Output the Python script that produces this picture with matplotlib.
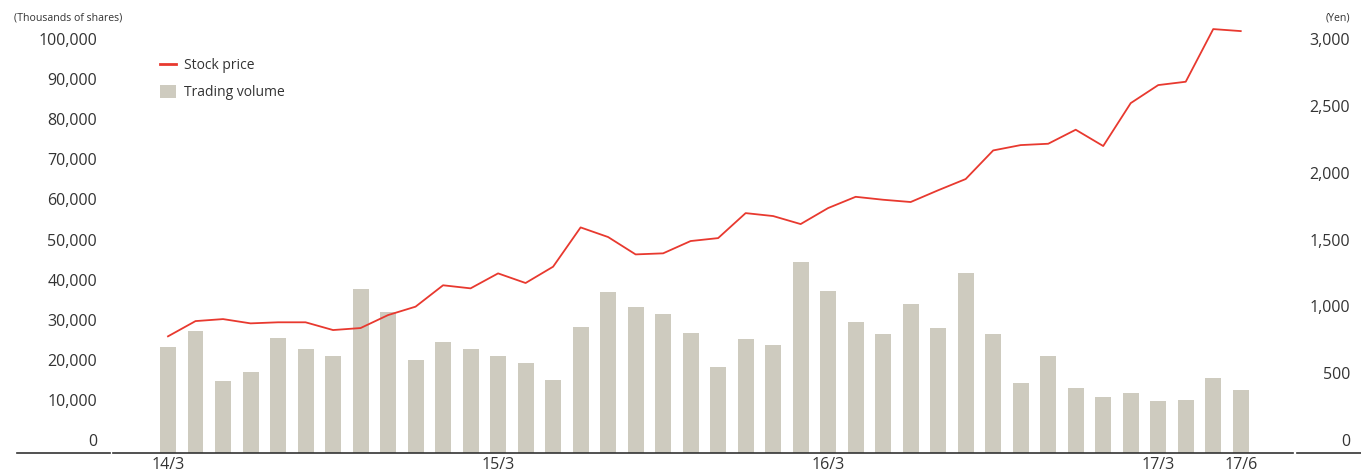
import matplotlib.pyplot as plt
from matplotlib.lines import Line2D
from matplotlib.patches import Patch
import matplotlib.transforms as mtransforms

plt.rcParams['font.family'] = ['Open Sans', 'DejaVu Sans']

# monthly data, 14/3 .. 17/6
volume = [26400, 30400, 17900, 20200, 28700, 25900, 24200, 40900, 35200, 23200,
          27700, 25900, 24200, 22400, 18200, 31400, 40100, 36400, 34700, 29900,
          21400, 28400, 26900, 47600, 40400, 32700, 29700, 37200, 31200, 44900,
          29700, 17500, 24200, 16200, 14000, 15000, 13000, 13200, 18700, 15700]
price = [873, 987, 1002, 970, 978, 978, 920, 935, 1032, 1095,
         1255, 1232, 1344, 1272, 1394, 1688, 1616, 1486, 1494, 1586,
         1608, 1795, 1773, 1713, 1833, 1917, 1895, 1878, 1966, 2050,
         2264, 2304, 2314, 2419, 2297, 2618, 2753, 2778, 3172, 3157]
tick_pos = [0, 12, 24, 36, 39]
tick_labels = ['14/3', '15/3', '16/3', '17/3', '17/6']
vol_ticks = list(range(0, 100001, 10000))
price_ticks = list(range(0, 3001, 500))

text_color = '#333333'
bar_color = '#cecbbf'
line_color = '#e8392f'

fig = plt.figure(figsize=(13.61, 4.71), dpi=100)
ax = fig.add_axes([113 / 1361, 18 / 471, 1180 / 1361, 433 / 471])
ax2 = ax.twinx()

x = list(range(len(volume)))
bars = ax.bar(x, volume, width=0.58, color=bar_color, zorder=2)
line, = ax2.plot(x, price, color=line_color, linewidth=1.3, zorder=3)

ax.set_xlim(-2.0, 40.9)
ax.set_ylim(0, 108000)
ax2.set_ylim(0, 3240)

for a in (ax, ax2):
    for s in ['top', 'left', 'right']:
        a.spines[s].set_visible(False)
    a.set_yticks([])
ax2.spines['bottom'].set_visible(False)
ax.spines['bottom'].set_color(text_color)
ax.spines['bottom'].set_linewidth(1.2)

ax.set_xticks(tick_pos)
ax.set_xticklabels(tick_labels, fontsize=11.5, color=text_color)
ax.tick_params(axis='x', length=0, pad=3)

# y labels sit just above their values
left_tr = mtransforms.offset_copy(
    mtransforms.blended_transform_factory(fig.transFigure, ax.transData),
    fig=fig, y=11, units='dots')
right_tr = mtransforms.offset_copy(
    mtransforms.blended_transform_factory(fig.transFigure, ax2.transData),
    fig=fig, y=11, units='dots')
for v in vol_ticks:
    ax.text(97 / 1361, v, f'{v:,}', transform=left_tr, ha='right', va='center',
            fontsize=11.5, color=text_color, clip_on=False)
for v in price_ticks:
    ax2.text(1350 / 1361, v, f'{v:,}', transform=right_tr, ha='right', va='center',
             fontsize=11.5, color=text_color, clip_on=False)

fig.text(14 / 1361, 1 - 18 / 471, '(Thousands of shares)', ha='left', va='center',
         fontsize=7.6, color=text_color)
fig.text(1350 / 1361, 1 - 18 / 471, '(Yen)', ha='right', va='center',
         fontsize=7.6, color=text_color)

# baseline pieces under the label columns
y_base = 18 / 471
fig.add_artist(Line2D([17 / 1361, 110 / 1361], [y_base, y_base], color=text_color, linewidth=1.2))
fig.add_artist(Line2D([1297 / 1361, 1], [y_base, y_base], color=text_color, linewidth=1.2))

handles = [Line2D([], [], color=line_color, linewidth=2),
           Patch(facecolor=bar_color, edgecolor='none')]
ax2.legend(handles, ['Stock price', 'Trading volume'], loc='upper left',
           bbox_to_anchor=(160 / 1361, 1 - 58 / 471), bbox_transform=fig.transFigure,
           frameon=False, fontsize=10, borderpad=0, borderaxespad=0,
           handlelength=1.15, handleheight=1.05, handletextpad=0.6,
           labelspacing=0.84, labelcolor=text_color)

fig.savefig('out.png', dpi=100)
